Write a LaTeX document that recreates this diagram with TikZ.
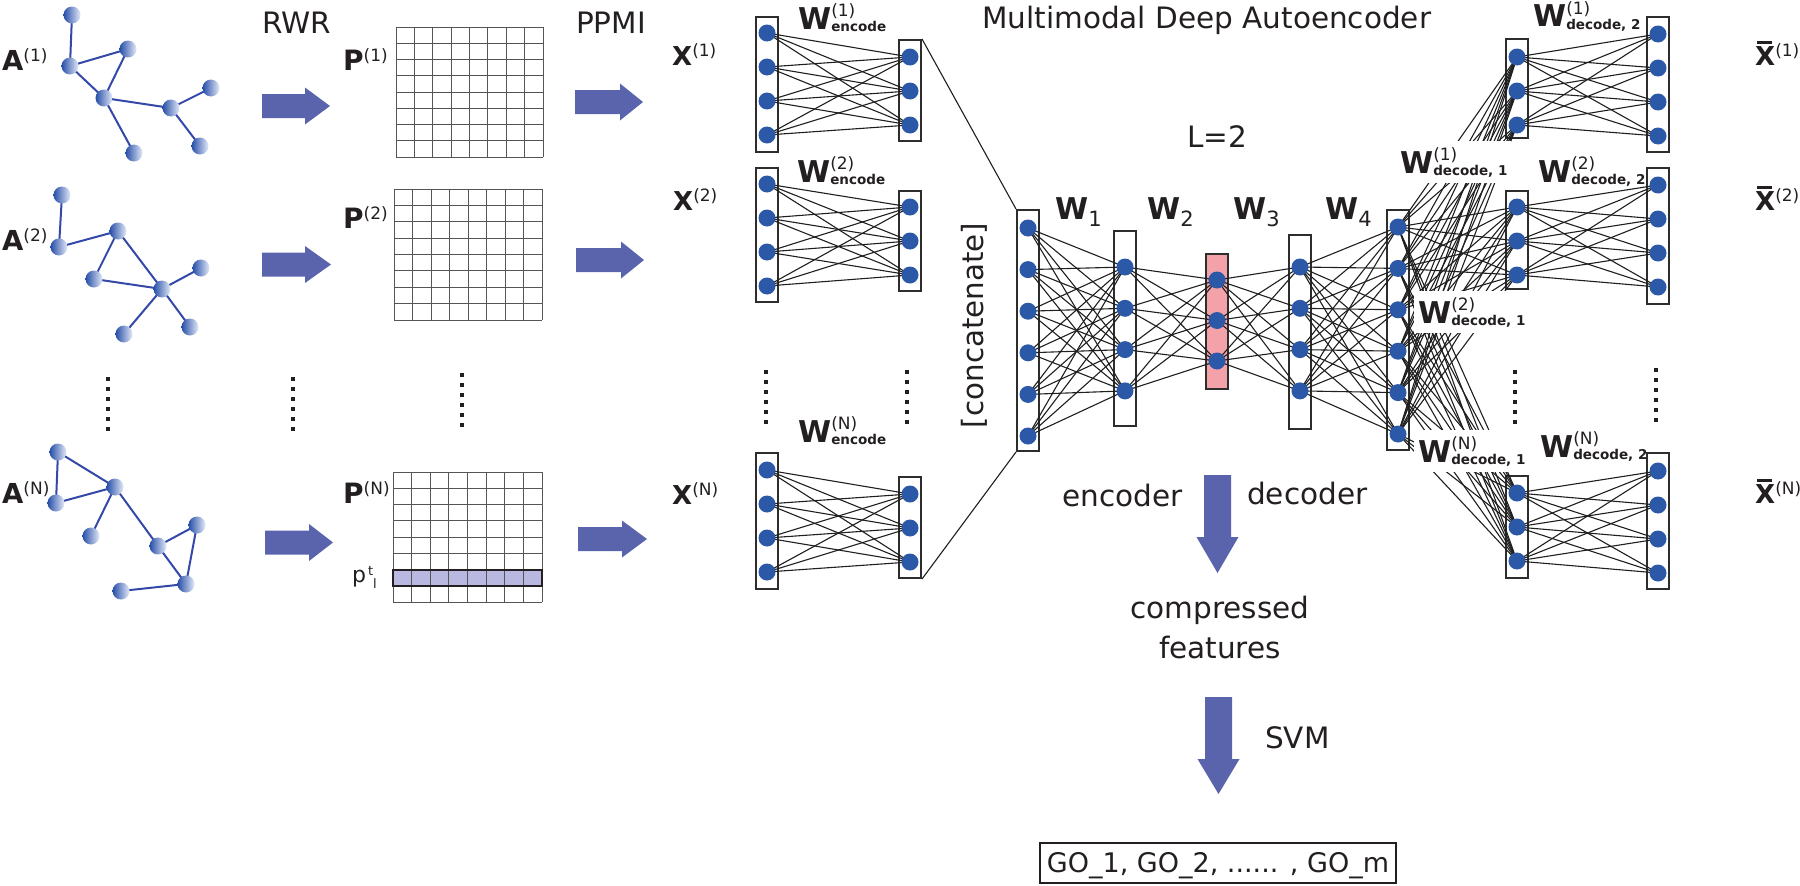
\documentclass[tikz,border=0pt]{standalone}
\usepackage{fontspec}
\setmainfont{DejaVu Sans}
\definecolor{nblue}{RGB}{44,88,168}
\definecolor{boxc}{RGB}{45,45,45}
\definecolor{pinkc}{RGB}{244,162,170}
\definecolor{ablue}{RGB}{90,100,172}
\definecolor{hlc}{RGB}{184,184,224}
\definecolor{gedc}{RGB}{52,72,168}
\definecolor{gdark}{RGB}{38,78,168}
\definecolor{glight}{RGB}{228,234,248}
\definecolor{txt}{RGB}{35,31,32}
\definecolor{gridc}{RGB}{85,85,85}
\pgfdeclarelayer{boxes}
\pgfdeclarelayer{lines}
\pgfsetlayers{boxes,lines,main}
\newcommand\fs[1]{\fontsize{#1}{#1}\selectfont}
\newcommand\Sup[3]{{\bfseries\fs{#1}#2}\raisebox{9pt}{\fs{17}(#3)}}
\newcommand\Xbar[1]{{\bfseries\fs{26}\rlap{\hspace{2pt}\raisebox{21pt}{\rule{15pt}{3pt}}}X}\raisebox{9pt}{\fs{17}(#1)}}
\newcommand\Wenc[1]{{\bfseries\fs{30}W}\rlap{\raisebox{13pt}{\fs{17}(#1)}}\raisebox{-2pt}{\bfseries\fs{13.5}encode}}
\newcommand\Wdec[2]{{\bfseries\fs{30}W}\rlap{\raisebox{13pt}{\fs{17}(#1)}}\raisebox{-2pt}{\bfseries\fs{13.5}decode, #2}}
\newcommand\Wn[1]{{\bfseries\fs{30}W}\raisebox{-7pt}{\fs{21}#1}}
\newcommand\mkbox[5]{\pgfmathsetmacro\mybh{#4-#3}\pgfmathsetmacro\mybc{(#3+#4)/2}%
  \begin{pgfonlayer}{boxes}\node[layerbox,fill=#5,minimum height=\mybh pt] (#1) at (#2,\mybc) {};\end{pgfonlayer}}
\newcommand\mkcol[5]{\foreach \i in {1,...,#5}{\node[unit] (#1-\i) at (#2,{#3+(\i-1)*#4}) {};}}
\newcommand\fullconn[4]{\begin{pgfonlayer}{lines}\foreach \i in {1,...,#2}{\foreach \j in {1,...,#4}{\draw[conn] (#1-\i.center) -- (#3-\j.center);}}\end{pgfonlayer}}
\newcommand\dotcol[2]{\foreach \k in {0,...,5}{\fill[txt] ({#1-2},{#2+\k*10}) rectangle ++(4,4);}}
\newcommand\mgrid[4]{\foreach \k in {0,...,8}{%
  \pgfmathsetmacro\gx{floor(#1+\k*(#3-#1)/8)+0.5}\pgfmathsetmacro\gy{floor(#2+\k*(#4-#2)/8)+0.5}%
  \draw[gridl] (\gx,#2) -- (\gx,#4); \draw[gridl] (#1,\gy) -- (#3,\gy);}}
\newcommand\harr[4]{\fill[ablue] (#1,{#4-12}) -- (#2,{#4-12}) -- (#2,{#4-18.5}) -- (#3,#4) -- (#2,{#4+18.5}) -- (#2,{#4+12}) -- (#1,{#4+12}) -- cycle;}
\newcommand\varr[4]{\fill[ablue] ({#1-13.5},#2) -- ({#1+13.5},#2) -- ({#1+13.5},#3) -- ({#1+21},#3) -- (#1,#4) -- ({#1-21},#3) -- ({#1-13.5},#3) -- cycle;}
\tikzset{
 unit/.style={circle,fill=nblue,minimum size=17pt,inner sep=0pt,draw=none},
 layerbox/.style={rectangle,draw=boxc,line width=2pt,minimum width=22pt,inner sep=0pt},
 conn/.style={line width=1.1pt,draw=black!88},
 gnode/.style={circle,minimum size=17pt,inner sep=0pt,left color=gdark,right color=glight,draw=none},
 gedge/.style={line width=2pt,draw=gedc},
 gridl/.style={line width=1pt,draw=gridc},
 lab/.style={inner sep=0pt,anchor=base west,text=txt},
 wlab/.style={lab,fill=white,inner xsep=4pt,inner ysep=6pt},
}
\begin{document}
\begin{tikzpicture}[x=1pt,y=-1pt]
\useasboundingbox (0,0) rectangle (1800,886);
% ---------- graphs ----------
\foreach \n/\x/\y in {1/72/15,2/70/66,3/128/49,4/104/98,5/171/108,6/211/88,7/200/146,8/134/153}
  {\node[gnode] (ga\n) at (\x,\y) {};}
\foreach \n/\x/\y in {1/62/195,2/59/247,3/118/231,4/94/279,5/162/289,6/201/268,7/124/334,8/190/327}
  {\node[gnode] (gb\n) at (\x,\y) {};}
\foreach \n/\x/\y in {1/58/452,2/56/503,3/115/487,4/91/536,5/158/546,6/197/525,7/186/584,8/121/591}
  {\node[gnode] (gc\n) at (\x,\y) {};}
\begin{pgfonlayer}{lines}
\foreach \a/\b in {1/2,2/3,2/4,3/4,4/5,5/6,5/7,4/8} {\draw[gedge] (ga\a.center) -- (ga\b.center);}
\foreach \a/\b in {1/2,2/3,3/4,3/5,4/5,5/6,5/7,5/8} {\draw[gedge] (gb\a.center) -- (gb\b.center);}
\foreach \a/\b in {1/2,1/3,2/3,3/4,3/5,5/6,6/7,5/7,7/8} {\draw[gedge] (gc\a.center) -- (gc\b.center);}
\end{pgfonlayer}
\node[lab] (tA1) at (2,70) {\Sup{27.5}{A}{1}};
\node[lab] (tA2) at (2,250) {\Sup{27.5}{A}{2}};
\node[lab] (tAN) at (2,503) {\Sup{27.5}{A}{N}};
% ---------- RWR ----------
\node[lab,font=\fs{29.5}] (trwr) at (262,33) {RWR};
\harr{262}{305}{330}{106}
\harr{262}{305}{331}{264.5}
\harr{265}{309}{333}{542.5}
\dotcol{108}{377}
\dotcol{293}{377}
% ---------- matrices ----------
\mgrid{396}{27}{543}{157}
\mgrid{394}{189}{542}{320}
\fill[hlc] (393,569.5) rectangle (542,585.75);
\mgrid{393}{472}{542}{602}
\draw[line width=2pt,draw=txt] (393,569.5) rectangle (542,585.75);
\node[lab] (tP1) at (343,70) {\Sup{28}{P}{1}};
\node[lab] (tP2) at (343,228) {\Sup{28}{P}{2}};
\node[lab] (tPN) at (343,503) {\Sup{28}{P}{N}};
\node[lab] (tpl) at (352,582) {\fs{22}p\rlap{\hspace{2pt}\raisebox{7pt}{\fs{13}t}}\hspace{7pt}\raisebox{-6pt}{\fs{13}l}};
\dotcol{462}{373}
% ---------- PPMI ----------
\node[lab,font=\fs{29.5}] (tppmi) at (576,33) {PPMI};
\harr{575}{620}{643}{102}
\harr{576}{621}{644}{260}
\harr{578}{622}{647}{539}
\node[lab] (tX1) at (672,65) {\Sup{26}{X}{1}};
\node[lab] (tX2) at (673,210) {\Sup{26}{X}{2}};
\node[lab] (tXN) at (672,504) {\Sup{26}{X}{N}};
% ---------- encoder nets ----------
\mkbox{e1Lb}{767}{17}{152}{white}
\mkbox{e1Rb}{910}{40}{141}{white}
\mkcol{e1L}{767}{33}{34}{4}
\mkcol{e1R}{910}{57}{34}{3}
\fullconn{e1L}{4}{e1R}{3}
\mkbox{e2Lb}{767}{168}{302}{white}
\mkbox{e2Rb}{910}{191}{291}{white}
\mkcol{e2L}{767}{184}{34}{4}
\mkcol{e2R}{910}{207}{34}{3}
\fullconn{e2L}{4}{e2R}{3}
\mkbox{eNLb}{767}{453}{589}{white}
\mkbox{eNRb}{910}{477}{578}{white}
\mkcol{eNL}{767}{470}{34}{4}
\mkcol{eNR}{910}{494}{34}{3}
\fullconn{eNL}{4}{eNR}{3}
\dotcol{766}{370}
\dotcol{907}{370}
\node[lab] (twe1) at (798,29) {\Wenc{1}};
\node[lab] (twe2) at (797,182) {\Wenc{2}};
\node[lab] (tweN) at (798,442) {\Wenc{N}};
% ---------- central autoencoder ----------
\node[lab,font=\fs{29.5}] (ttitle) at (982,28) {Multimodal Deep Autoencoder};
\node[lab,font=\fs{29.5}] (tL) at (1187,147) {L=2};
\node[rotate=90,anchor=base,inner sep=0pt,font=\fs{29.3},text=txt] (tcat) at (983,325.5) {[concatenate]};
\mkbox{c1b}{1028}{210}{451}{white}
\mkbox{c2b}{1124.5}{231}{426}{white}
\mkbox{c3b}{1216.5}{254}{389}{pinkc}
\mkbox{c4b}{1300}{235}{429}{white}
\mkbox{c5b}{1397.5}{210}{450}{white}
\mkcol{c1}{1028}{228}{41.6}{6}
\mkcol{c2}{1125}{267}{41.3}{4}
\mkcol{c3}{1217}{280}{40.5}{3}
\mkcol{c4}{1300}{267}{41.3}{4}
\mkcol{c5}{1398}{227}{41.4}{6}
\fullconn{c1}{6}{c2}{4}
\fullconn{c2}{4}{c3}{3}
\fullconn{c3}{3}{c4}{4}
\fullconn{c4}{4}{c5}{6}
\begin{pgfonlayer}{lines}
\draw[conn] (e1Rb.north east) -- (c1b.north west);
\draw[conn] (eNRb.south east) -- (c1b.south west);
\end{pgfonlayer}
\node[lab] (tw1) at (1055,219) {\Wn{1}};
\node[lab] (tw2) at (1147,219) {\Wn{2}};
\node[lab] (tw3) at (1233,219) {\Wn{3}};
\node[lab] (tw4) at (1325,219) {\Wn{4}};
% ---------- decoder nets ----------
\mkbox{d1Lb}{1516.5}{39}{138}{white}
\mkbox{d1Rb}{1658}{17}{152}{white}
\mkcol{d1L}{1517}{57}{34}{3}
\mkcol{d1R}{1658}{34}{34}{4}
\fullconn{d1L}{3}{d1R}{4}
\mkbox{d2Lb}{1516.5}{191}{289}{white}
\mkbox{d2Rb}{1658}{168}{304}{white}
\mkcol{d2L}{1517}{207}{34}{3}
\mkcol{d2R}{1658}{185}{34}{4}
\fullconn{d2L}{3}{d2R}{4}
\mkbox{dNLb}{1516.5}{476}{578}{white}
\mkbox{dNRb}{1658}{453}{589}{white}
\mkcol{dNL}{1517}{493}{34}{3}
\mkcol{dNR}{1658}{471}{34}{4}
\fullconn{dNL}{3}{dNR}{4}
\fullconn{c5}{6}{d1L}{3}
\fullconn{c5}{6}{d2L}{3}
\fullconn{c5}{6}{dNL}{3}
\dotcol{1515}{370}
\dotcol{1656}{368}
\node[wlab] (twd11) at (1396,173) {\Wdec{1}{1}};
\node[wlab] (twd21) at (1414,323) {\Wdec{2}{1}};
\node[wlab] (twdN1) at (1414,462) {\Wdec{N}{1}};
\node[lab] (twd12) at (1533,27) {\Wdec{1}{2}};
\node[lab] (twd22) at (1538,182) {\Wdec{2}{2}};
\node[lab] (twdN2) at (1540,457) {\Wdec{N}{2}};
\node[lab] (tXb1) at (1755,65) {\Xbar{1}};
\node[lab] (tXb2) at (1755,210) {\Xbar{2}};
\node[lab] (tXbN) at (1755,503) {\Xbar{N}};
% ---------- bottom ----------
\varr{1217.5}{475}{537}{573}
\node[lab,font=\fs{29.5}] (tenc) at (1062,506) {encoder};
\node[lab,font=\fs{29.5}] (tdec) at (1247,504) {decoder};
\node[inner sep=0pt,anchor=base,font=\fs{29.5},text=txt] (tcomp) at (1220,618) {compressed};
\node[inner sep=0pt,anchor=base,font=\fs{29.5},text=txt] (tfeat) at (1220,658) {features};
\varr{1218.5}{697}{759}{794}
\node[lab,font=\fs{29.5}] (tsvm) at (1265,748) {SVM};
\node[draw=txt,line width=2pt,minimum width=356pt,minimum height=40pt,inner sep=0pt,font=\fs{27},text height=19.5pt,text depth=0pt,text=txt] (go) at (1218,863) {GO\_1, GO\_2, ...... , GO\_m};
\end{tikzpicture}
\end{document}
